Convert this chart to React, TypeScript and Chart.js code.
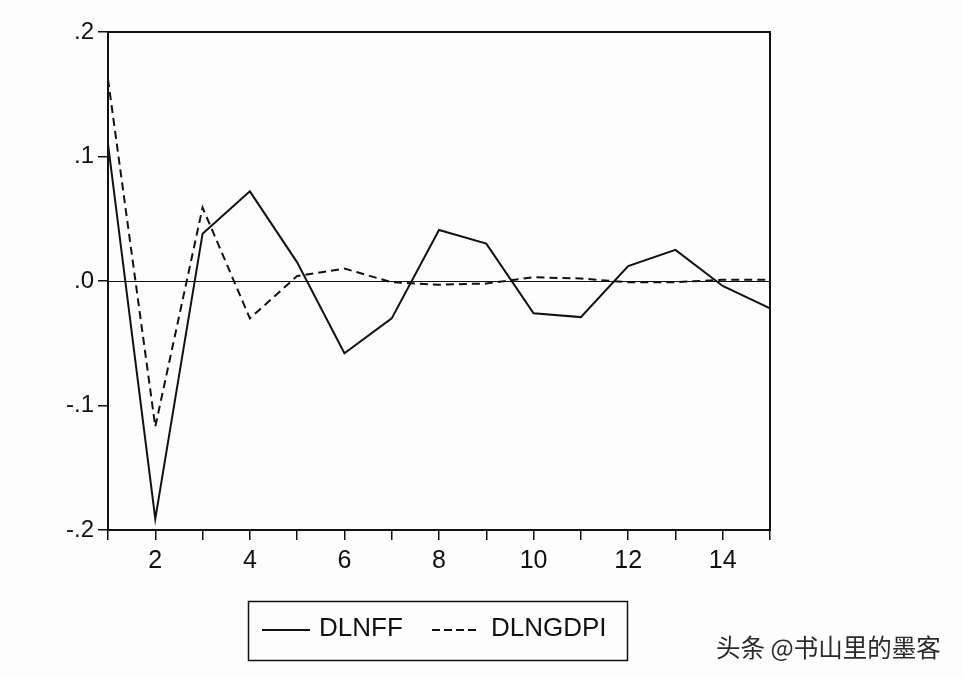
import React, { useEffect, useRef } from "react";
import { Chart, registerables } from "chart.js";

Chart.register(...registerables);

const periods = [1, 2, 3, 4, 5, 6, 7, 8, 9, 10, 11, 12, 13, 14, 15];
const dlnff = [0.11, -0.191, 0.038, 0.072, 0.015, -0.058, -0.03, 0.041, 0.03, -0.026, -0.029, 0.012, 0.025, -0.004, -0.022];
const dlngdpi = [0.162, -0.117, 0.059, -0.03, 0.004, 0.01, -0.001, -0.003, -0.002, 0.003, 0.002, -0.001, -0.001, 0.001, 0.001];
const yTicks = [-0.2, -0.1, 0, 0.1, 0.2];
const seriesNames = ["DLNFF", "DLNGDPI"];
const watermark = "头条 @书山里的墨客";

const FONT = "'Liberation Sans', Arial, sans-serif";

const fmtY = (v: number) => {
  if (Math.abs(v) < 1e-9) return ".0";
  const s = v.toFixed(1);
  return s.replace("0.", ".");
};

const framePlugin = {
  id: "frame",
  afterDatasetsDraw(chart: any) {
    const { ctx, chartArea } = chart;
    const y = chart.scales.y;
    ctx.save();
    ctx.strokeStyle = "#111";
    ctx.lineWidth = 1;
    const y0 = Math.round(y.getPixelForValue(0)) + 0.5;
    ctx.beginPath();
    ctx.moveTo(chartArea.left, y0);
    ctx.lineTo(chartArea.right, y0);
    ctx.stroke();
    ctx.lineWidth = 2;
    ctx.strokeRect(chartArea.left, chartArea.top, chartArea.right - chartArea.left, chartArea.bottom - chartArea.top);
    ctx.restore();
  },
  afterDraw(chart: any) {
    const { ctx } = chart;
    ctx.save();
    // legend box
    ctx.strokeStyle = "#111";
    ctx.lineWidth = 1.5;
    ctx.strokeRect(248.5, 601.5, 379, 59);
    ctx.lineWidth = 2;
    ctx.beginPath();
    ctx.moveTo(262, 630);
    ctx.lineTo(310, 630);
    ctx.stroke();
    ctx.setLineDash([8, 4]);
    ctx.beginPath();
    ctx.moveTo(432, 630);
    ctx.lineTo(479, 630);
    ctx.stroke();
    ctx.setLineDash([]);
    ctx.fillStyle = "#111";
    ctx.font = `26px ${FONT}`;
    ctx.textBaseline = "middle";
    ctx.textAlign = "left";
    ctx.fillText(seriesNames[0], 319, 629);
    ctx.fillText(seriesNames[1], 491, 629);
    // watermark
    ctx.font = `24.5px 'Noto Sans CJK SC', sans-serif`;
    ctx.fillStyle = "#2a2a2a";
    ctx.fillText(watermark, 716, 648);
    ctx.restore();
  },
};

export default function App() {
  const ref = useRef<HTMLCanvasElement | null>(null);
  useEffect(() => {
    if (!ref.current) return;
    const chart = new Chart(ref.current, {
      type: "line",
      data: {
        labels: periods,
        datasets: [
          {
            label: seriesNames[0],
            data: periods.map((p, i) => ({ x: p, y: dlnff[i] })),
            borderColor: "#111",
            borderWidth: 2,
            pointRadius: 0,
            tension: 0,
            fill: false,
          },
          {
            label: seriesNames[1],
            data: periods.map((p, i) => ({ x: p, y: dlngdpi[i] })),
            borderColor: "#111",
            borderWidth: 2,
            borderDash: [8, 5],
            pointRadius: 0,
            tension: 0,
            fill: false,
          },
        ],
      },
      options: {
        animation: false,
        responsive: false,
        maintainAspectRatio: false,
        layout: { padding: { top: 32, right: 192, left: 0, bottom: 0 } },
        plugins: { legend: { display: false }, tooltip: { enabled: false } },
        scales: {
          x: {
            type: "linear",
            min: 1,
            max: 15,
            border: { display: false },
            grid: { drawOnChartArea: false, drawTicks: true, tickLength: 10, color: "#111", lineWidth: 1.5 },
            ticks: {
              stepSize: 1,
              autoSkip: false,
              maxRotation: 0,
              color: "#111",
              font: { family: FONT, size: 25 },
              padding: 6,
              callback: (v: any) => (Number(v) % 2 === 0 ? String(v) : ""),
            },
            afterFit: (s: any) => {
              s.height = 678 - 530;
            },
          },
          y: {
            min: -0.2,
            max: 0.2,
            border: { display: false },
            grid: { drawOnChartArea: false, drawTicks: true, tickLength: 10, color: "#111", lineWidth: 1.5 },
            afterBuildTicks: (s: any) => {
              s.ticks = yTicks.map((v) => ({ value: v }));
            },
            ticks: {
              color: "#111",
              font: { family: FONT, size: 24 },
              padding: 4,
              callback: (v: any) => fmtY(Number(v)),
            },
            afterFit: (s: any) => {
              s.width = 108;
            },
          },
        },
      },
      plugins: [framePlugin],
    });
    return () => chart.destroy();
  }, []);
  return (
    <div style={{ position: "fixed", left: 0, top: 0, width: 962, height: 678, background: "#fdfdfd" }}>
      <canvas ref={ref} width={962} height={678} style={{ width: 962, height: 678 }} />
    </div>
  );
}
